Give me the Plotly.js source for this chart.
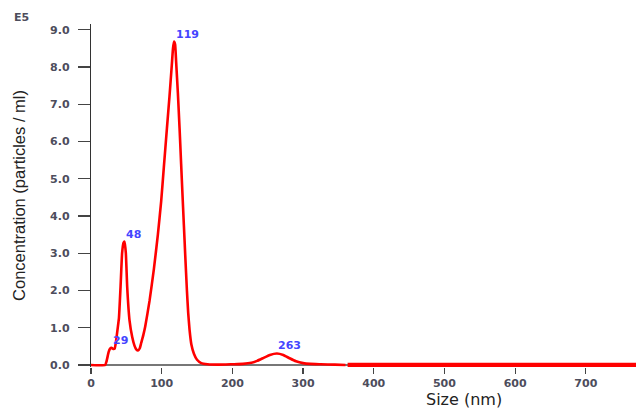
<!DOCTYPE html>
<html>
<head>
<meta charset="utf-8">
<script src="https://cdn.plot.ly/plotly-3.0.1.min.js"></script>
<style>html,body{margin:0;padding:0;background:#fff;overflow:hidden}</style>
</head>
<body>
<div id="chart" style="width:636px;height:411px"></div>
<script>
// Size distribution (nm) and concentration (x1E5 particles/ml)
var sizes = [0, 20, 22, 25, 27, 29, 31.5, 33.5, 35.5, 37.5, 39.5, 41.8, 44, 46, 47.5, 49.3, 51.2, 54.5, 58.3, 61.5, 64, 66.5, 69, 71, 74, 76.7, 82.8, 89, 94.6, 99.3, 103, 107.4, 111, 114.3, 116, 117.5, 119, 120.4, 122.9, 125.3, 127.5, 129, 131.4, 133.3, 135.7, 137.5, 139.4, 142, 145.6, 150, 156, 165, 180, 200, 215, 227, 235, 243, 253, 263, 272, 281, 290, 300, 310, 325, 345, 360];
var concentration = [0, 0, 0.10, 0.35, 0.44, 0.46, 0.43, 0.44, 0.65, 0.95, 1.25, 2.1, 3.0, 3.28, 3.31, 3.0, 2.1, 1.2, 0.75, 0.52, 0.42, 0.39, 0.45, 0.59, 0.8, 1.03, 1.72, 2.58, 3.5, 4.4, 5.3, 6.35, 7.2, 8.05, 8.5, 8.68, 8.6, 8.15, 7.3, 6.35, 5.4, 4.75, 3.75, 2.95, 2.0, 1.4, 0.95, 0.55, 0.3, 0.14, 0.05, 0.02, 0.01, 0.02, 0.03, 0.06, 0.11, 0.18, 0.27, 0.31, 0.27, 0.18, 0.10, 0.05, 0.03, 0.02, 0.01, 0];
var tailSizes = [363, 771];
var tailConcentration = [0, 0];
var peakSizes = [29, 48, 119, 263];
var peakValues = [0.46, 3.31, 8.68, 0.32];
var peakLabels = ['29', '48', '119', '263'];
var yTickVals = [0, 1, 2, 3, 4, 5, 6, 7, 8, 9];
var xTickVals = [0, 100, 200, 300, 400, 500, 600, 700];

var traces = [
  {x: sizes, y: concentration, type: 'scatter', mode: 'lines',
   line: {color: '#ff0000', width: 2.6, shape: 'spline', smoothing: 0.4},
   hoverinfo: 'x+y', showlegend: false},
  {x: tailSizes, y: tailConcentration, type: 'scatter', mode: 'lines',
   line: {color: '#ff0000', width: 4.5},
   hoverinfo: 'x+y', showlegend: false}
];

var annotations = peakSizes.map(function (s, i) {
  return {x: s, y: peakValues[i], xref: 'x', yref: 'y', text: peakLabels[i],
    showarrow: false, xanchor: 'left', yanchor: 'bottom', borderpad: 0,
    font: {family: 'DejaVu Sans', size: 11, color: '#4545ff', weight: 'bold'}};
});
annotations.push({text: 'E5', xref: 'paper', yref: 'paper', x: -0.128, y: 1.02,
  xanchor: 'center', yanchor: 'middle', showarrow: false,
  font: {family: 'DejaVu Sans', size: 11, color: '#4d4d5c', weight: 'bold'}});
annotations.push({text: 'Size (nm)', xref: 'paper', yref: 'paper', x: 0.6844, y: -0.0962,
  xanchor: 'center', yanchor: 'middle', showarrow: false, borderpad: 0,
  font: {family: 'DejaVu Sans', size: 16, color: '#222222'}});

var layout = {
  width: 636, height: 411,
  margin: {l: 91, r: 0, t: 24, b: 44},
  paper_bgcolor: '#ffffff', plot_bgcolor: '#ffffff',
  showlegend: false,
  xaxis: {
    range: [0, 771], tickvals: xTickVals, ticktext: xTickVals.map(String),
    showgrid: false, zeroline: false, showline: false,
    ticks: 'outside', ticklen: 6, tickwidth: 1.2, tickcolor: '#444444',
    ticklabelstandoff: 0,
    tickfont: {family: 'DejaVu Sans', size: 11, color: '#4d4d5c', weight: 'bold'},
    layer: 'below traces'
  },
  yaxis: {
    range: [-0.054, 9.153], tickvals: yTickVals, tickformat: '.1f',
    showgrid: false, zeroline: true, zerolinecolor: '#777777', zerolinewidth: 1.2,
    showline: true, linecolor: '#333333', linewidth: 1.2,
    ticks: 'outside', ticklen: 12, tickwidth: 1.2, tickcolor: '#444444',
    ticklabelstandoff: 6,
    tickfont: {family: 'DejaVu Sans', size: 11, color: '#4d4d5c', weight: 'bold'},
    title: {text: 'Concentration (particles / ml)', standoff: 20,
      font: {family: 'Liberation Sans, Arial, sans-serif', size: 16.5, color: '#222222'}},
    layer: 'below traces'
  },
  annotations: annotations
};

Plotly.newPlot('chart', traces, layout, {displayModeBar: false, staticPlot: true});
</script>
</body>
</html>
